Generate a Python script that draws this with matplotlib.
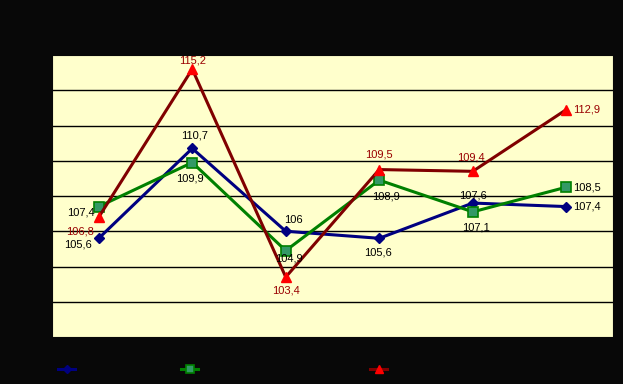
import matplotlib.pyplot as plt
import numpy as np

plt.rcParams['font.family'] = ['Liberation Sans', 'DejaVu Sans']

categories = ["1", "2", "3", "4", "5", "6"]
blue_vals = [105.6, 110.7, 106.0, 105.6, 107.6, 107.4]
green_vals = [107.4, 109.9, 104.9, 108.9, 107.1, 108.5]
red_vals = [106.8, 115.2, 103.4, 109.5, 109.4, 112.9]

# label offsets in pixels (dx, dy, ha), picked by eye
blue_off = [(-21, -6, "center"), (2, 13, "center"), (8, 11, "center"),
            (-1, -14, "center"), (0, 8, "center"), (7, 0, "left")]
green_off = [(-18, -6, "center"), (-2, -16, "center"), (3, -8, "center"),
             (7, -16, "center"), (3, -16, "center"), (7, 0, "left")]
red_off = [(-19, -14, "center"), (0, 9, "center"), (0, -13, "center"),
           (0, 15, "center"), (-2, 14, "center"), (7, 0, "left")]

def fmt(v):
    s = ("%.1f" % v).rstrip("0").rstrip(".")
    return s.replace(".", ",")

fig = plt.figure(figsize=(6.23, 3.84), dpi=100, facecolor="#080808")
ax = fig.add_axes([52 / 623, 1 - 337 / 384, 561 / 623, 282 / 384])
ax.set_facecolor("#FFFFCC")

x = np.arange(len(categories))
ax.set_xlim(-0.5, len(categories) - 0.5)
ax.set_ylim(100, 116)
ax.set_yticks(np.arange(102, 116, 2))
ax.grid(axis="y", color="black", lw=1)
ax.tick_params(left=False, bottom=False, labelleft=False, labelbottom=False)
for s in ax.spines.values():
    s.set_color("#080808")

lb, = ax.plot(x, blue_vals, color="#000080", lw=2.2, marker="D", ms=5,
              mfc="#000080", mec="#000080", zorder=3)
lg, = ax.plot(x, green_vals, color="#008000", lw=2.2, marker="s", ms=7,
              mfc="#339966", mec="#008000", mew=1.2, zorder=3)
lr, = ax.plot(x, red_vals, color="#800000", lw=2.2, marker="^", ms=7,
              mfc="#FF0000", mec="#FF0000", zorder=3)

for vals, offs, col in [(blue_vals, blue_off, "black"),
                        (green_vals, green_off, "black"),
                        (red_vals, red_off, "#990000")]:
    for xi, v, (dx, dy, ha) in zip(x, vals, offs):
        ax.annotate(fmt(v), (xi, v), xytext=(dx, dy), textcoords="offset pixels",
                    ha=ha, va="center", fontsize=8, color=col, zorder=4)

# legend entries at the bottom, label text is black on black in the original
for h, cx in [(lb, 66), (lg, 189), (lr, 378)]:
    fig.legend([h], [""], loc="center", bbox_to_anchor=(cx / 623 + 0.003, 1 - 370 / 384),
               frameon=False, handlelength=1.6, handletextpad=0.2, fontsize=7.5,
               markerscale=0.85)

fig.savefig("out.png", dpi=100, facecolor=fig.get_facecolor())
